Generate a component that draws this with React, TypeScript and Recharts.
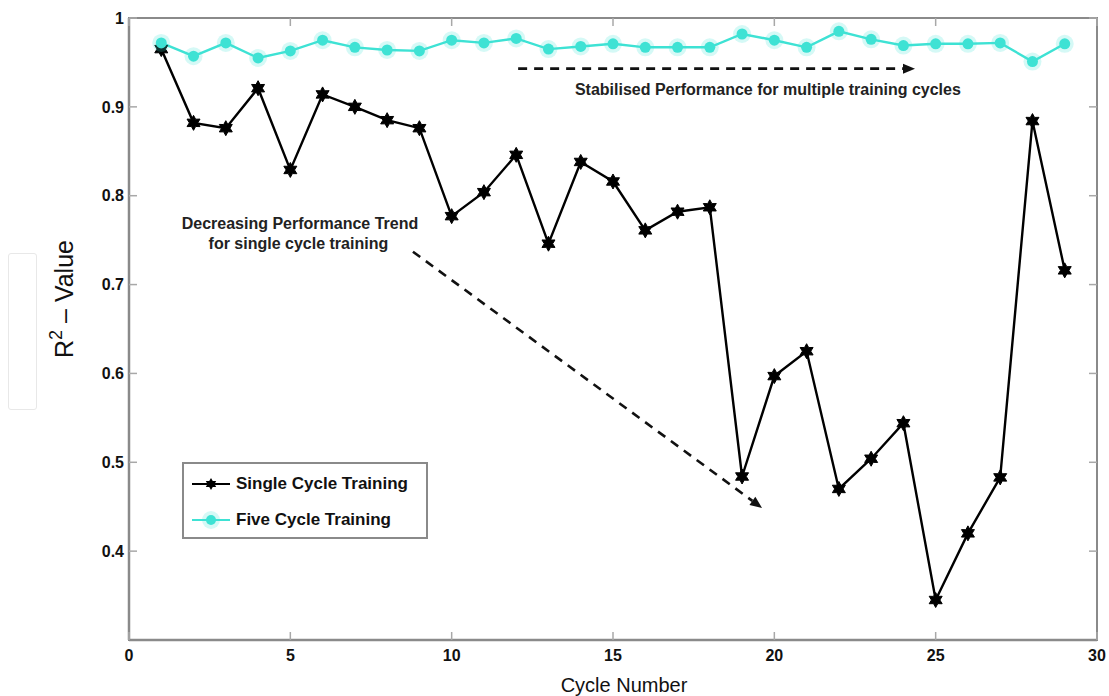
import React from 'react';
import {
  LineChart,
  Line,
  XAxis,
  YAxis,
  Legend,
  ReferenceLine,
  ReferenceDot,
  ReferenceArea,
} from 'recharts';

// ---- data ----
const cycles = [1, 2, 3, 4, 5, 6, 7, 8, 9, 10, 11, 12, 13, 14, 15, 16, 17, 18, 19, 20, 21, 22, 23, 24, 25, 26, 27, 28, 29];
const singleCycle = [0.965, 0.882, 0.876, 0.921, 0.829, 0.914, 0.9, 0.885, 0.876, 0.777, 0.804, 0.846, 0.746, 0.838, 0.816, 0.761, 0.782, 0.787, 0.484, 0.597, 0.625, 0.47, 0.504, 0.544, 0.345, 0.42, 0.483, 0.884, 0.716];
const fiveCycle = [0.972, 0.957, 0.972, 0.955, 0.963, 0.975, 0.967, 0.964, 0.963, 0.975, 0.972, 0.977, 0.965, 0.968, 0.971, 0.967, 0.967, 0.967, 0.982, 0.975, 0.967, 0.985, 0.976, 0.969, 0.971, 0.971, 0.972, 0.951, 0.971];
const xTicks = [0, 5, 10, 15, 20, 25, 30];
const yTicks = [0.4, 0.5, 0.6, 0.7, 0.8, 0.9, 1];

const seriesNames = ['Single Cycle Training', 'Five Cycle Training'];
const annotationTexts = [
  'Stabilised Performance for multiple training cycles',
  'Decreasing Performance Trend',
  'for single cycle training',
];
// annotation anchors in data units
const arrowStable = { x1: 12.06, y1: 0.943, x2: 24.36, y2: 0.943 };
const arrowDecreasing = { x1: 8.8, y1: 0.737, x2: 19.62, y2: 0.4486 };
const textStable = { x: 19.8, y: 0.913 };
const textDecreasing1 = { x: 5.3, y: 0.7625 };
const textDecreasing2 = { x: 5.25, y: 0.74 };

const data = cycles.map((c, i) => ({ cycle: c, single: singleCycle[i], five: fiveCycle[i] }));

// ---- layout / style ----
const W = 1109;
const H = 696;
const M = { top: 18, right: 12, left: 0, bottom: 0 };
const Y_W = 129;
const X_H = 56;
const PLOT_TOP = M.top;
const PLOT_BOTTOM = H - M.bottom - X_H;
const PLOT_LEFT = M.left + Y_W;
const PLOT_RIGHT = W - M.right;
const AXIS = '#8a8a8a';
const TICKC = '#a8a8a8';
const CYAN = '#3ee2d4';
const FONT = '"Liberation Sans", Arial, Helvetica, sans-serif';
const TL = 8;

function starPoints(cx: number, cy: number, ro: number, ri: number) {
  const pts: string[] = [];
  for (let k = 0; k < 12; k++) {
    const a = (-90 + k * 30) * (Math.PI / 180);
    const r = k % 2 === 0 ? ro : ri;
    pts.push(`${cx + r * Math.cos(a)},${cy + r * Math.sin(a)}`);
  }
  return pts.join(' ');
}

const StarDot = (props: any) => {
  const { cx, cy } = props;
  if (cx == null || cy == null) return null;
  return <polygon points={starPoints(cx, cy, 7.5, 4.2)} fill="#000" stroke="#000" strokeWidth={1} />;
};

const CyanDot = (props: any) => {
  const { cx, cy } = props;
  if (cx == null || cy == null) return null;
  return (
    <g>
      <circle cx={cx} cy={cy} r={9} fill={CYAN} opacity={0.22} />
      <circle cx={cx} cy={cy} r={5.5} fill={CYAN} />
    </g>
  );
};

const XTick = (props: any) => {
  const { x, y, payload } = props;
  return (
    <g>
      <line x1={x} y1={PLOT_BOTTOM} x2={x} y2={PLOT_BOTTOM - TL} stroke={TICKC} strokeWidth={1.5} />
      <line x1={x} y1={PLOT_TOP} x2={x} y2={PLOT_TOP + TL} stroke={TICKC} strokeWidth={1.5} />
      <text x={x} y={y} dy="0.71em" textAnchor="middle" fontFamily={FONT} fontWeight="bold" fontSize={16} fill="#111">
        {payload.value}
      </text>
    </g>
  );
};

const YTick = (props: any) => {
  const { x, y, payload } = props;
  const v = payload.value;
  const label = v === 1 ? '1' : Number(v).toFixed(1);
  return (
    <g>
      <line x1={PLOT_LEFT} y1={y} x2={PLOT_LEFT + TL} y2={y} stroke={TICKC} strokeWidth={1.5} />
      <line x1={PLOT_RIGHT} y1={y} x2={PLOT_RIGHT - TL} y2={y} stroke={TICKC} strokeWidth={1.5} />
      <text x={x} y={y} dy="0.355em" textAnchor="end" fontFamily={FONT} fontWeight="bold" fontSize={16} fill="#111">
        {label}
      </text>
    </g>
  );
};

const ArrowShape = (props: any) => {
  const { x1, y1, x2, y2 } = props;
  const ang = Math.atan2(y2 - y1, x2 - x1);
  const len = 12;
  const half = 5;
  const bx = x2 - len * Math.cos(ang);
  const by = y2 - len * Math.sin(ang);
  const px = -Math.sin(ang) * half;
  const py = Math.cos(ang) * half;
  return (
    <g>
      <line x1={x1} y1={y1} x2={bx} y2={by} stroke="#111" strokeWidth={2.6} strokeDasharray="9 7" />
      <polygon points={`${x2},${y2} ${bx + px},${by + py} ${bx - px},${by - py}`} fill="#111" />
    </g>
  );
};

const makeTextShape = (txt: string) => (props: any) => {
  const { cx, cy } = props;
  return (
    <text x={cx} y={cy} textAnchor="middle" fontFamily={FONT} fontWeight="bold" fontSize={16} fill="#222">
      {txt}
    </text>
  );
};

const LegendBox = (props: any) => {
  const payload = [...(props.payload || [])].sort(
    (a: any, b: any) => seriesNames.indexOf(a.value) - seriesNames.indexOf(b.value)
  );
  return (
    <div
      style={{
        width: 246,
        height: 77,
        boxSizing: 'border-box',
        border: `2px solid ${AXIS}`,
        background: '#fff',
        position: 'relative',
      }}
    >
      {payload.map((entry: any, i: number) => {
        const isStar = entry.dataKey === 'single';
        return (
          <div
            key={entry.value}
            style={{ position: 'absolute', left: 6, top: i === 0 ? 8 : 44, height: 24, display: 'flex', alignItems: 'center' }}
          >
            <svg width={42} height={24} style={{ display: 'block' }}>
              <line x1={2} y1={12} x2={40} y2={12} stroke={entry.color} strokeWidth={2.2} />
              {isStar ? (
                <polygon points={starPoints(21, 12, 6, 3.5)} fill="#000" />
              ) : (
                <g>
                  <circle cx={21} cy={12} r={9} fill={CYAN} opacity={0.22} />
                  <circle cx={21} cy={12} r={5} fill={CYAN} />
                </g>
              )}
            </svg>
            <span style={{ fontFamily: FONT, fontWeight: 'bold', fontSize: 17, color: '#111', marginLeft: 4, whiteSpace: 'nowrap' }}>
              {entry.value}
            </span>
          </div>
        );
      })}
    </div>
  );
};

const YLabel = (props: any) => {
  const vb = props.viewBox || {};
  const cx = (vb.x || 0) + 73;
  const cy = (vb.y || 0) + (vb.height || 0) / 2 - 30;
  return (
    <text
      x={cx}
      y={cy}
      transform={`rotate(-90, ${cx}, ${cy})`}
      textAnchor="middle"
      fontFamily={FONT}
      fontSize={25}
      fill="#111"
    >
      R
      <tspan dy={-11} fontSize={18}>2</tspan>
      <tspan dy={11}>{' – Value'}</tspan>
    </text>
  );
};

const XLabel = (props: any) => {
  const vb = props.viewBox || {};
  const cx = (vb.x || 0) + (vb.width || 0) / 2 + 11;
  return (
    <text x={cx} y={692} textAnchor="middle" fontFamily={FONT} fontSize={20} fill="#111">
      Cycle Number
    </text>
  );
};

export default function App() {
  return (
    <div style={{ position: 'absolute', left: 0, top: 0, width: W, height: H, background: '#fff' }}>
      <div
        style={{
          position: 'absolute',
          left: 8,
          top: 253,
          width: 29,
          height: 157,
          border: '1.5px solid #e8e8e8',
          borderRadius: 3,
          boxSizing: 'border-box',
        }}
      />
      <LineChart width={W} height={H} data={data} margin={M}>
        <XAxis
          dataKey="cycle"
          type="number"
          domain={[0, 30]}
          ticks={xTicks}
          interval={0}
          height={X_H}
          tickSize={0}
          tickMargin={10}
          axisLine={{ stroke: AXIS, strokeWidth: 2.5 }}
          tickLine={false}
          tick={(p: any) => <XTick {...p} />}
          label={{ content: (p: any) => <XLabel {...p} /> } as any}
          allowDataOverflow
        />
        <YAxis
          type="number"
          domain={[0.3, 1]}
          ticks={yTicks}
          interval={0}
          width={Y_W}
          tickSize={0}
          tickMargin={5}
          axisLine={{ stroke: AXIS, strokeWidth: 2.5 }}
          tickLine={false}
          tick={(p: any) => <YTick {...p} />}
          label={{ content: (p: any) => <YLabel {...p} /> } as any}
          allowDataOverflow
        />
        <ReferenceArea x1={0} x2={30} y1={0.3} y2={1} fill="none" stroke={AXIS} strokeWidth={2} ifOverflow="visible" />
        <Line
          dataKey="single"
          name={seriesNames[0]}
          stroke="#000"
          strokeWidth={2.4}
          dot={(p: any) => <StarDot key={`s${p.index}`} {...p} />}
          activeDot={false}
          isAnimationActive={false}
        />
        <Line
          dataKey="five"
          name={seriesNames[1]}
          stroke={CYAN}
          strokeWidth={2.4}
          dot={(p: any) => <CyanDot key={`f${p.index}`} {...p} />}
          activeDot={false}
          isAnimationActive={false}
        />
        <ReferenceLine
          segment={[
            { x: arrowStable.x1, y: arrowStable.y1 },
            { x: arrowStable.x2, y: arrowStable.y2 },
          ]}
          shape={(p: any) => <ArrowShape {...p} />}
          ifOverflow="visible"
        />
        <ReferenceLine
          segment={[
            { x: arrowDecreasing.x1, y: arrowDecreasing.y1 },
            { x: arrowDecreasing.x2, y: arrowDecreasing.y2 },
          ]}
          shape={(p: any) => <ArrowShape {...p} />}
          ifOverflow="visible"
        />
        <ReferenceDot x={textStable.x} y={textStable.y} r={0} shape={makeTextShape(annotationTexts[0])} ifOverflow="visible" />
        <ReferenceDot x={textDecreasing1.x} y={textDecreasing1.y} r={0} shape={makeTextShape(annotationTexts[1])} ifOverflow="visible" />
        <ReferenceDot x={textDecreasing2.x} y={textDecreasing2.y} r={0} shape={makeTextShape(annotationTexts[2])} ifOverflow="visible" />
        <Legend
          layout="vertical"
          align="center"
          verticalAlign="middle"
          content={(p: any) => <LegendBox {...p} />}
          wrapperStyle={{ position: 'absolute', left: 182, top: 462, width: 246, height: 77 }}
        />
      </LineChart>
    </div>
  );
}
